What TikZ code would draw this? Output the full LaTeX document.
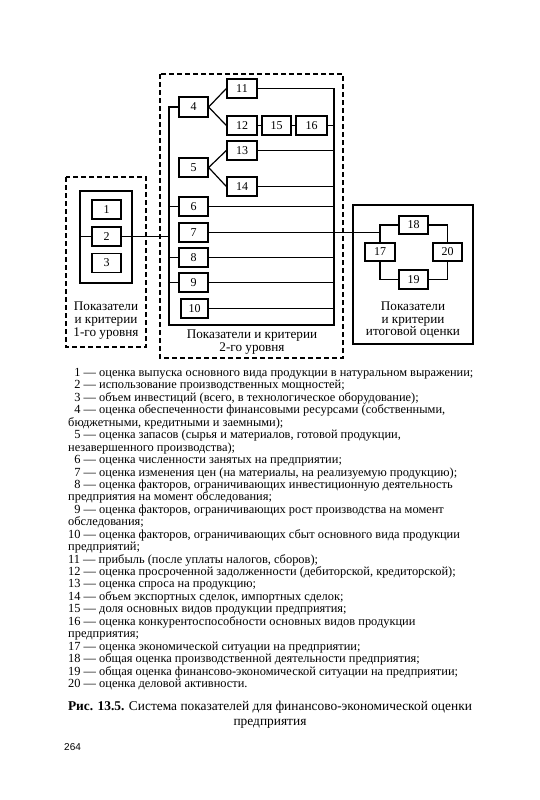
\documentclass[tikz,border=0pt]{standalone}
\usepackage{fontspec}
\setmainfont{Liberation Serif}
\newfontfamily\pagenumfont{Liberation Sans}
\begin{document}
\begin{tikzpicture}[x=1pt,y=-1pt,
  box/.style={draw,line width=1.3pt,minimum width=29pt,minimum height=19pt,inner sep=0pt,font=\fontsize{12}{12}\selectfont},
  conn/.style={line width=1.2pt},
  dashbox/.style={line width=1.5pt,dash pattern=on 5pt off 3pt},
  frame/.style={line width=1.4pt},
  lbl/.style={align=center,font=\fontsize{13.2}{12.9}\selectfont,inner sep=0pt},
  listline/.style={anchor=base west,inner sep=0pt,font=\fontsize{12.4}{12.4}\selectfont}]
\useasboundingbox (0,0) rectangle (540,800);
% level 1
\draw[dashbox] (66,177) rectangle (146,347);
\draw[frame] (80,191) rectangle (132,283);
\node[box] (b1) at (106.5,209.5) {1};
\node[box] (b2) at (106.5,236.5) {2};
\node[box] (b3) at (106.5,263) {3};
\coordinate (l1in) at (80,236.5);
\node[lbl] (l1lab) at (106,320.5) {Показатели\\и критерии\\1-го уровня};
% level 2
\draw[dashbox] (160,74) rectangle (343,358);
\node[box,minimum height=20pt] (b4) at (193.5,107) {4};
\node[box,minimum width=30pt] (b11) at (242,88.5) {11};
\node[box,minimum width=30pt] (b12) at (242,125.5) {12};
\node[box] (b15) at (276.5,125.5) {15};
\node[box,minimum width=31pt] (b16) at (311.5,125.5) {16};
\node[box,minimum width=30pt] (b13) at (242,150.5) {13};
\node[box] (b5) at (193.5,167.5) {5};
\node[box,minimum width=30pt] (b14) at (242,186.5) {14};
\node[box] (b6) at (193.5,206.5) {6};
\node[box] (b7) at (193.5,232.5) {7};
\node[box] (b8) at (193.5,257.5) {8};
\node[box] (b9) at (193.5,282.5) {9};
\node[box,minimum width=27pt] (b10) at (194.5,308.5) {10};
\coordinate (lbT) at (169,107);
\coordinate (lbB) at (169,325);
\coordinate (rbT) at (334,88.5);
\coordinate (rbB) at (334,325);
\node[lbl] (l2lab) at (252,342) {Показатели и критерии\\2-го уровня};
% final
\draw[frame] (353,205) rectangle (473,344);
\node[box,minimum height=18pt] (b18) at (413.5,225) {18};
\node[box,minimum width=30pt,minimum height=18pt] (b17) at (380,252) {17};
\node[box,minimum height=18pt] (b20) at (447.5,252) {20};
\node[box] (b19) at (413.5,279.5) {19};
\node[lbl] (l3lab) at (413,320) {Показатели\\и критерии\\итоговой оценки};
% connectors
\draw[conn] (l1in) -- (b2.west);
\draw[conn] (b2.east) -- (lbB |- b2.east);
\draw[conn] (b4.west) -- (lbT) -- (lbB) -- (rbB) -- (rbT) -- (b11.east);
\draw[conn] (b4.east) -- (b11.west);
\draw[conn] (b4.east) -- (b12.west);
\draw[conn] (b5.east) -- (b13.west);
\draw[conn] (b5.east) -- (b14.west);
\draw[conn] (b12.east) -- (b15.west);
\draw[conn] (b15.east) -- (b16.west);
\draw[conn] (b16.east) -- (rbT |- b16.east);
\draw[conn] (b13.east) -- (rbT |- b13.east);
\draw[conn] (b14.east) -- (rbT |- b14.east);
\draw[conn] (b6.east) -- (rbT |- b6.east);
\draw[conn] (b8.east) -- (rbT |- b8.east);
\draw[conn] (b9.east) -- (rbT |- b9.east);
\draw[conn] (b10.east) -- (rbT |- b10.east);
\draw[conn] (b6.west) -- (lbT |- b6.west);
\draw[conn] (b8.west) -- (lbT |- b8.west);
\draw[conn] (b9.west) -- (lbT |- b9.west);
\draw[conn] (b7.east) -- (b17.north |- b7.east);
\draw[conn] (b18.west) -| (b17.north);
\draw[conn] (b17.south) |- (b19.west);
\draw[conn] (b19.east) -| (b20.south);
\draw[conn] (b20.north) |- (b18.east);
% list
\node[listline] (t1) at (68,376.5) {\hphantom{0}1 — оценка выпуска основного вида продукции в натуральном выражении;};
\node[listline] (t2) at (68,388.94) {\hphantom{0}2 — использование производственных мощностей;};
\node[listline] (t3) at (68,401.38) {\hphantom{0}3 — объем инвестиций (всего, в технологическое оборудование);};
\node[listline] (t4) at (68,413.82) {\hphantom{0}4 — оценка обеспеченности финансовыми ресурсами (собственными,};
\node[listline] (t5) at (68,426.26) {бюджетными, кредитными и заемными);};
\node[listline] (t6) at (68,438.7) {\hphantom{0}5 — оценка запасов (сырья и материалов, готовой продукции,};
\node[listline] (t7) at (68,451.14) {незавершенного производства);};
\node[listline] (t8) at (68,463.58) {\hphantom{0}6 — оценка численности занятых на предприятии;};
\node[listline] (t9) at (68,476.02) {\hphantom{0}7 — оценка изменения цен (на материалы, на реализуемую продукцию);};
\node[listline] (t10) at (68,488.46) {\hphantom{0}8 — оценка факторов, ограничивающих инвестиционную деятельность};
\node[listline] (t11) at (68,500.9) {предприятия на момент обследования;};
\node[listline] (t12) at (68,513.34) {\hphantom{0}9 — оценка факторов, ограничивающих рост производства на момент};
\node[listline] (t13) at (68,525.78) {обследования;};
\node[listline] (t14) at (68,538.22) {10 — оценка факторов, ограничивающих сбыт основного вида продукции};
\node[listline] (t15) at (68,550.66) {предприятий;};
\node[listline] (t16) at (68,563.1) {11 — прибыль (после уплаты налогов, сборов);};
\node[listline] (t17) at (68,575.54) {12 — оценка просроченной задолженности (дебиторской, кредиторской);};
\node[listline] (t18) at (68,587.98) {13 — оценка спроса на продукцию;};
\node[listline] (t19) at (68,600.42) {14 — объем экспортных сделок, импортных сделок;};
\node[listline] (t20) at (68,612.86) {15 — доля основных видов продукции предприятия;};
\node[listline] (t21) at (68,625.3) {16 — оценка конкурентоспособности основных видов продукции};
\node[listline] (t22) at (68,637.74) {предприятия;};
\node[listline] (t23) at (68,650.18) {17 — оценка экономической ситуации на предприятии;};
\node[listline] (t24) at (68,662.62) {18 — общая оценка производственной деятельности предприятия;};
\node[listline] (t25) at (68,675.06) {19 — общая оценка финансово-экономической ситуации на предприятии;};
\node[listline] (t26) at (68,687.5) {20 — оценка деловой активности.};
% caption
\node[align=center,inner sep=0pt,font=\fontsize{13.4}{15}\selectfont] (cap) at (270,714.5) {\textbf{Рис. 13.5.} Система показателей для финансово-экономической оценки\\предприятия};
\node[anchor=west,inner sep=0pt,font=\pagenumfont\fontsize{10}{10}\selectfont] (pg) at (64,747) {264};
\end{tikzpicture}
\end{document}
